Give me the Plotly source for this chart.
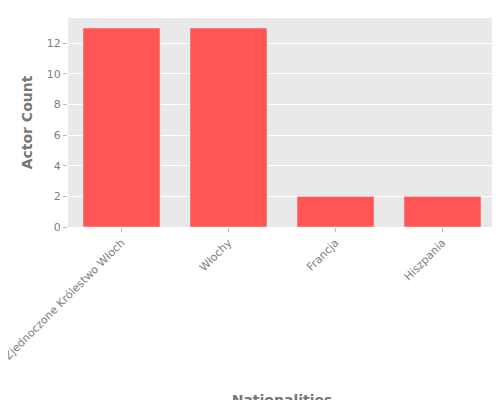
import plotly.graph_objects as go

categories = ["Zjednoczone Królestwo Włoch", "Włochy", "Francja", "Hiszpania"]
counts = [13, 13, 2, 2]

fig = go.Figure(go.Bar(x=categories, y=counts, marker_color="#FF5555", width=0.72))
fig.update_layout(
    width=500, height=400,
    margin=dict(l=60, r=12, t=10, b=181),
    paper_bgcolor="white", plot_bgcolor="#E9E9E9",
    font=dict(family="DejaVu Sans", size=11, color="#808080"),
    xaxis=dict(title=dict(text="<b>Nationalities</b>", font=dict(size=14, color="#777777"), standoff=150),
               tickangle=-45, showgrid=False, ticks="outside", tickcolor="#BBBBBB", ticklen=4,
               automargin=False),
    yaxis=dict(title=dict(text="<b>Actor Count</b>", font=dict(size=14, color="#777777"), standoff=10),
               gridcolor="white", range=[0, 13.65], dtick=2, zeroline=False,
               ticks="outside", tickcolor="#BBBBBB", ticklen=4, automargin=False),
    bargap=0.28,
)
fig.write_html("out.html")
